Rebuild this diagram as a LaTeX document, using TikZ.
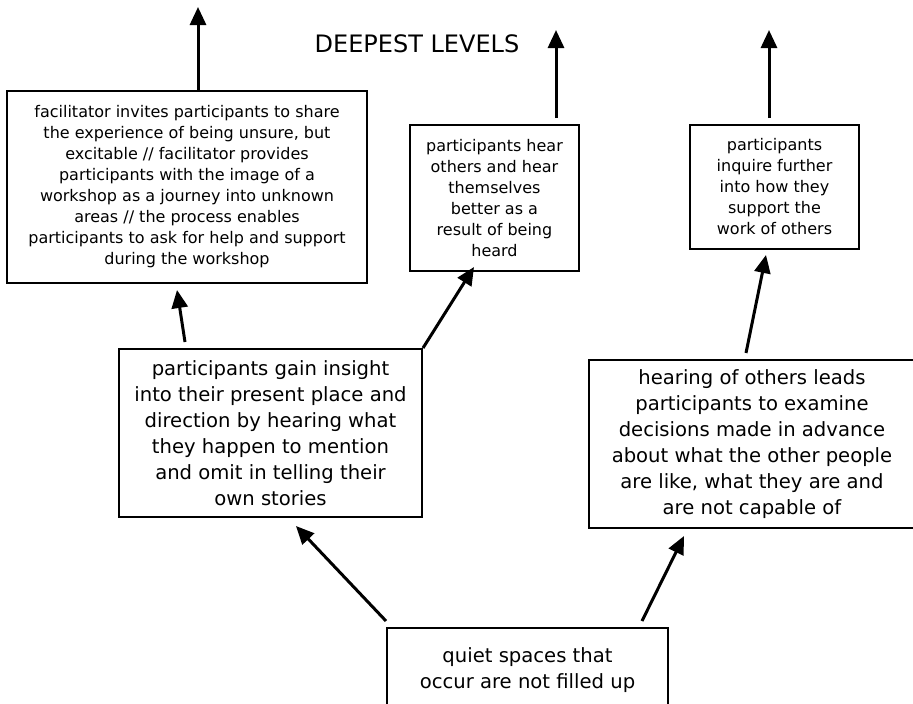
\documentclass[tikz,border=0pt]{standalone}
\usepackage{fontspec}
\setmainfont{DejaVu Sans}
\usetikzlibrary{calc,arrows.meta}

\begin{document}
\begin{tikzpicture}[x=1pt,y=-1pt,>={Triangle[length=18pt,width=16pt]},
  box/.style={draw,line width=2pt,align=center,inner sep=0pt},
  smalltxt/.style={font=\fontsize{16}{21}\selectfont},
  bigtxt/.style={font=\fontsize{19.6}{26}\selectfont},
  arr/.style={->,line width=3pt}]
  \clip (0,0) rectangle (913,704);
  \node[font=\fontsize{24}{28}\selectfont] (title) at (417,44) {DEEPEST LEVELS};
  \node[box,smalltxt,minimum width=360pt,minimum height=192pt] (A) at (187,187)
    {facilitator invites participants to share\\ the experience of being unsure, but\\
     excitable // facilitator provides\\ participants with the image of a\\
     workshop as a journey into unknown\\ areas // the process enables\\
     participants to ask for help and support\\ during the workshop};
  \node[box,smalltxt,minimum width=169pt,minimum height=146pt] (B) at (494.5,198)
    {participants hear\\ others and hear\\ themselves\\ better as a\\ result of being\\ heard};
  \node[box,smalltxt,minimum width=169pt,minimum height=124pt] (C) at (774.5,187)
    {participants\\ inquire further\\ into how they\\ support the\\ work of others};
  \node[box,bigtxt,minimum width=303pt,minimum height=168pt] (D) at (270.5,433)
    {participants gain insight\\ into their present place and\\ direction by hearing what\\
     they happen to mention\\ and omit in telling their\\ own stories};
  \node[box,bigtxt,minimum width=326pt,minimum height=168pt] (E) at (752,444)
    {hearing of others leads\\ participants to examine\\ decisions made in advance\\
     about what the other people\\ are like, what they are and\\ are not capable of};
  \node[box,bigtxt,minimum width=281pt,minimum height=84pt] (F) at (527.5,670)
    {quiet spaces that\\ occur are not filled up};
  \coordinate (upA) at (198,7);
  \coordinate (upB) at (556,30);
  \coordinate (upC) at (769,30);
  \draw[arr] (A.north -| upA) -- (upA);
  \draw[arr,shorten <=6pt] (B.north -| upB) -- (upB);
  \draw[arr,shorten <=6pt] (C.north -| upC) -- (upC);
  \draw[arr] ($(D.north west)+(67,-6)$) -- ($(A.south west)+(171,6)$);
  \draw[arr] (D.north east) -- ($(B.south west)+(65,-5)$);
  \draw[arr] ($(E.north west)+(158,-6)$) -- ($(C.south west)+(77,5)$);
  \draw[arr] ($(F.north west)+(0,-6)$) -- ($(D.south west)+(178,8)$);
  \draw[arr] ($(F.north west)+(256,-6)$) -- ($(E.south west)+(96,7)$);
\end{tikzpicture}
\end{document}
